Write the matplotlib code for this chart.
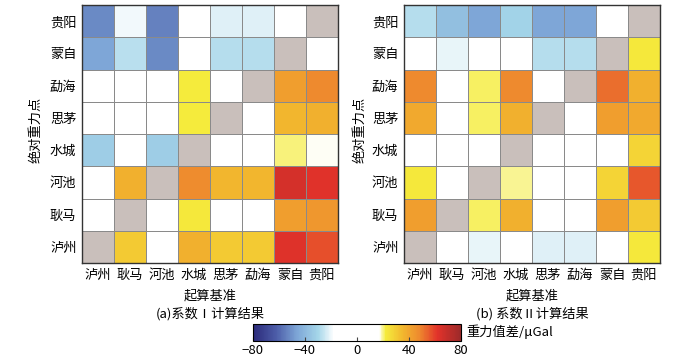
import numpy as np
import matplotlib
import matplotlib.pyplot as plt
from matplotlib.colors import LinearSegmentedColormap, Normalize

plt.rcParams['font.family'] = ['Noto Sans CJK SC', 'DejaVu Sans']
plt.rcParams['axes.unicode_minus'] = True

# rows listed top -> bottom, columns left -> right
row_labels = ['贵阳', '蒙自', '勐海', '思茅', '水城', '河池', '耿马', '泸州']
col_labels = ['泸州', '耿马', '河池', '水城', '思茅', '勐海', '蒙自', '贵阳']

# 系数 I (diagonal = nan)
vals_a = [
    [-52, -20, -54, 0, -22, -22, 0, np.nan],
    [-46, -27, -52, 0, -28, -28, np.nan, 0],
    [0, 0, 0, 22, 0, np.nan, 42, 48],
    [0, 0, 0, 22, np.nan, 0, 35, 37],
    [-33, 0, -33, np.nan, 0, 0, 20, 17],
    [0, 37, np.nan, 47, 35, 35, 65, 62],
    [0, np.nan, 0, 23, 0, 0, 42, 44],
    [np.nan, 30, 0, 37, 30, 30, 63, 57],
]

# 系数 II
vals_b = [
    [-28, -38, -46, -31, -46, -46, -18, np.nan],
    [0, -21, 0, 0, -28, -28, np.nan, 23],
    [48, 0, 21, 48, 0, np.nan, 52, 37],
    [39, 0, 21, 37, np.nan, 0, 42, 39],
    [0, 0, 0, np.nan, 0, 0, 0, 28],
    [23, 0, np.nan, 19.5, 0, 0, 28, 56],
    [42, np.nan, 21, 37, 0, 0, 42, 30],
    [np.nan, 0, -21, 0, -22, -22, 0, 23],
]

cb_ticks = [-80, -40, 0, 40, 80]

# colour scale
stops = [(-80, '#2b2a7a'), (-62, '#4d5ea9'), (-46, '#7ea7d7'), (-30, '#a5d6e9'),
         (-18, '#ffffff'), (17, '#ffffff'), (22, '#f5ec3c'), (35, '#f2b82e'),
         (48, '#ee8a2e'), (62, '#e2322a'), (80, '#9c2a2a')]
cmap = LinearSegmentedColormap.from_list(
    'grav', [((v + 80) / 160, c) for v, c in stops])
cmap.set_bad('#c9bfbb')
norm = Normalize(-80, 80)

fig = plt.figure(figsize=(7, 3.58), dpi=100)
W, H = 700, 358
FS = 9.5


def panel(left, data, title, ylab_x):
    ax = fig.add_axes([left / W, 1 - 263 / H, 256 / W, 258 / H])
    arr = np.ma.masked_invalid(np.array(data, dtype=float))
    ax.pcolormesh(arr, cmap=cmap, norm=norm, edgecolors='#8a8a8a', linewidth=0.6)
    ax.set_xlim(0, 8)
    ax.set_ylim(8, 0)
    ax.set_xticks(np.arange(8) + 0.5)
    ax.set_xticklabels(col_labels, fontsize=FS)
    ax.set_yticks(np.arange(8) + 0.5)
    ax.set_yticklabels(row_labels, fontsize=FS)
    ax.tick_params(length=0, pad=4)
    for s in ax.spines.values():
        s.set_color('#333333')
        s.set_linewidth(1.0)
    cx = (left + 128) / W
    fig.text(cx, 1 - 296 / H, '起算基准', ha='center', va='center', fontsize=FS)
    fig.text(cx, 1 - 314 / H, title, ha='center', va='center', fontsize=FS)
    fig.text(ylab_x / W, 1 - 130 / H, '绝对重力点', ha='center', va='center',
             rotation=90, fontsize=FS)
    return ax


panel(82, vals_a, '(a)系数Ⅰ计算结果', 36)
panel(404, vals_b, '(b) 系数Ⅱ计算结果', 360)

cax = fig.add_axes([253 / W, 1 - 341 / H, 208 / W, 17 / H])
sm = matplotlib.cm.ScalarMappable(norm=norm, cmap=cmap)
cb = fig.colorbar(sm, cax=cax, orientation='horizontal', ticks=cb_ticks)
cb.ax.tick_params(direction='in', length=3, labelsize=FS, pad=2, color='#444444')
cb.outline.set_linewidth(0.8)
fig.text(466 / W, 1 - 332 / H, '重力值差/μGal', ha='left', va='center', fontsize=FS)

fig.savefig('out.png', dpi=100)
